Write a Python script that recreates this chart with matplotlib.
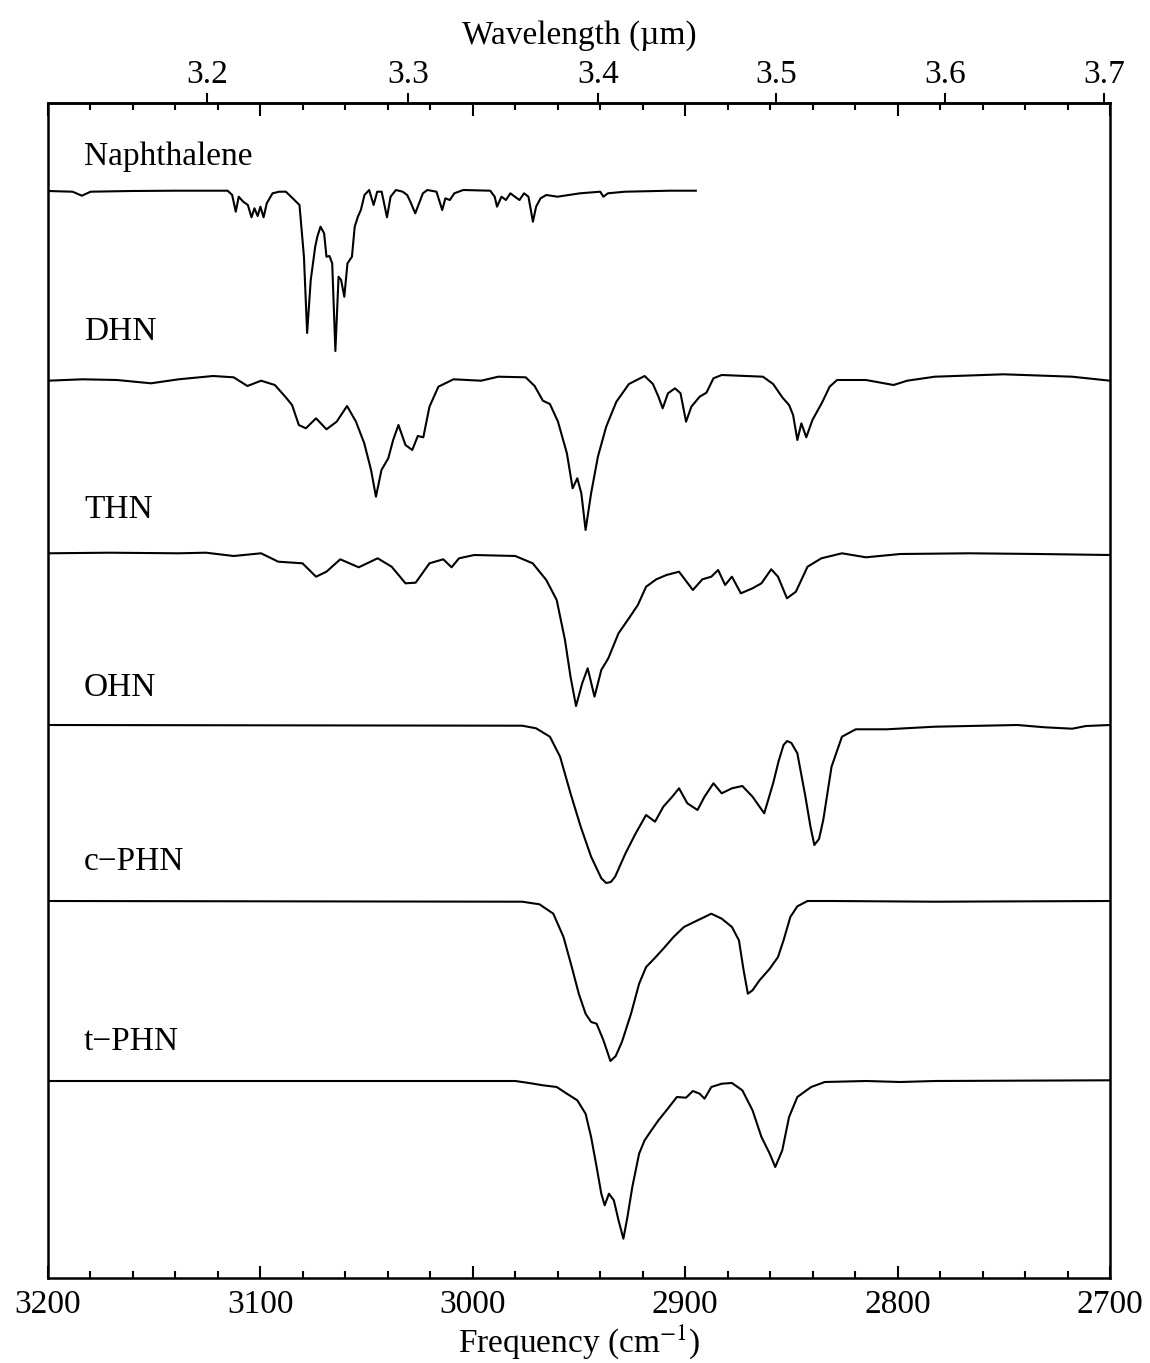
import numpy as np
import matplotlib
matplotlib.use("Agg")
import matplotlib.pyplot as plt
from matplotlib.ticker import MultipleLocator

plt.rcParams['font.family'] = ['Liberation Serif', 'DejaVu Serif']
plt.rcParams['mathtext.fontset'] = 'stix'

# spectra: frequency (cm-1) and signal (dip below baseline, arbitrary units)
naph_f = [3200.0, 3188.4, 3184.1, 3179.9, 3160.9, 3139.8, 3115.4, 3113.3, 3111.6, 3110.2, 3108.1,
          3105.9, 3104.2, 3102.8, 3101.3, 3100.0, 3098.5, 3097.0, 3094.3, 3091.1, 3088.0, 3084.8,
          3081.6, 3079.5, 3078.0, 3076.3, 3074.2, 3073.2, 3071.7, 3070.0, 3068.9, 3067.5, 3066.2,
          3064.7, 3063.2, 3062.0, 3060.5, 3059.0, 3056.9, 3055.6, 3054.1, 3052.7, 3051.0, 3048.8,
          3046.7, 3045.0, 3042.9, 3040.4, 3038.7, 3036.2, 3033.0, 3030.9, 3029.4, 3027.1, 3025.6,
          3023.5, 3021.4, 3017.1, 3014.4, 3012.9, 3010.8, 3008.7, 3004.5, 2991.8, 2989.7, 2988.6,
          2986.5, 2984.4, 2982.3, 2980.2, 2978.0, 2975.9, 2973.8, 2971.7, 2970.2, 2968.1, 2965.4,
          2960.1, 2949.5, 2940.0, 2938.5, 2936.4, 2928.4, 2907.2, 2895.0]
naph_v = [0, -0.7, -4.7, -0.7, 0, 0.3, 0.3, -4, -20.7, -5.7, -10.7,
          -14, -26.3, -17.3, -25, -15.7, -26.3, -12.3, -2.3, -0.7, -0.7, -7.3,
          -14, -65.7, -142, -89, -55.7, -45.7, -35.7, -42.3, -65.7, -65, -72.3,
          -160, -85.7, -89, -105.7, -72.3, -65.7, -35.7, -25.7, -19, -4, 1,
          -14, -0.7, -0.7, -26.3, -5.7, 1, -0.7, -4, -10.7, -22.3, -14,
          -2.3, 1, -0.7, -19, -7.3, -9, -2.3, 1, 0.3, -5.7, -15.7,
          -5.7, -9, -2.3, -5.7, -9, -2.3, -5.7, -30.7, -15.7, -7.3, -4,
          -5.7, -2.3, -0.7, -5.7, -2.3, -0.7, 0.3, 0.3]

dhn_f = [3200.0, 3183.8, 3167.6, 3151.5, 3138.5, 3122.3, 3112.6, 3106.1, 3099.7, 3093.2, 3088.3,
         3085.1, 3081.9, 3078.6, 3073.8, 3068.9, 3064.1, 3059.2, 3055.0, 3051.1, 3047.9, 3045.6,
         3043.0, 3039.8, 3037.5, 3035.0, 3031.7, 3028.5, 3025.9, 3023.3, 3020.4, 3016.2, 3009.1,
         2996.1, 2988.0, 2975.1, 2970.9, 2967.0, 2963.7, 2959.9, 2955.7, 2953.0, 2950.8, 2948.9,
         2946.9, 2944.3, 2941.1, 2937.2, 2932.4, 2926.5, 2919.1, 2915.2, 2912.6, 2910.6, 2908.1,
         2904.8, 2902.2, 2899.6, 2897.1, 2893.2, 2890.0, 2886.7, 2882.8, 2863.4, 2858.6, 2854.3,
         2851.1, 2849.2, 2847.2, 2845.3, 2843.0, 2840.1, 2835.6, 2832.0, 2828.5, 2814.9, 2801.9,
         2795.5, 2782.5, 2750.1, 2717.8, 2700.0]
dhn_v = [-0.7, 0.7, 0, -3.3, 0.7, 4, 2.7, -6, -0.7, -5, -16.7,
         -25, -45, -48.3, -38.3, -49.3, -41.7, -26, -41.7, -63.3, -90, -116.7,
         -90, -78.3, -60, -45, -65, -70, -56, -57.3, -26.7, -6.7, 0.7,
         -0.7, 3.3, 2.7, -6, -20.7, -24, -41.7, -73.3, -108.3, -98.3, -113.3,
         -150, -113.3, -76.7, -46.7, -21.7, -4, 4, -4, -16.7, -28.3, -13.3,
         -8.3, -13.3, -41.7, -26.7, -16.7, -12.7, 1.7, 5, 3.3, -4, -17.3,
         -25, -35, -60, -43.3, -57.3, -40, -22.7, -6.7, 0, 0, -5,
         -0.7, 3.3, 5.7, 3.3, -0.7]

thn_f = [3200.0, 3171.1, 3138.5, 3125.6, 3112.6, 3099.7, 3091.6, 3080.2, 3073.8, 3068.9, 3062.4,
         3053.7, 3044.8, 3038.2, 3031.7, 3026.9, 3020.4, 3013.9, 3010.0, 3006.5, 2999.3, 2980.0,
         2971.8, 2965.4, 2960.5, 2956.6, 2954.0, 2951.4, 2948.5, 2945.9, 2942.7, 2939.5, 2936.2,
         2931.4, 2926.5, 2922.3, 2918.4, 2913.6, 2908.8, 2902.9, 2896.4, 2891.9, 2887.7, 2884.5,
         2881.2, 2878.0, 2873.8, 2868.3, 2864.1, 2859.5, 2856.3, 2852.1, 2847.9, 2842.4, 2835.9,
         2826.2, 2814.9, 2798.7, 2766.3, 2733.9, 2700.0]
thn_v = [0.7, 1.3, 0.7, 1.3, -2, 0.7, -7.7, -9.3, -22.7, -17.7, -5.3,
         -13.3, -4.3, -12.7, -29.3, -28.7, -9.3, -5.3, -13.3, -4.3, -1, -2,
         -9.3, -26, -46, -86, -122.7, -152, -129.3, -114.3, -142.7, -116, -104.3,
         -79.3, -64.3, -51, -32.7, -25.3, -21, -17.7, -36, -25.3, -22.7, -16,
         -31, -22.7, -39.3, -34.3, -29.3, -15.3, -22.7, -44.3, -37.7, -12.7, -4.3,
         0.7, -3.3, 0, 0.7, 0, -1]

ohn_f = [3200.0, 2976.7, 2970.2, 2963.7, 2958.9, 2954.0, 2949.2, 2944.3, 2939.5, 2937.2, 2935.0,
         2933.0, 2928.1, 2923.3, 2918.4, 2914.2, 2910.3, 2906.1, 2902.9, 2899.0, 2894.2, 2890.9,
         2886.7, 2882.8, 2878.0, 2873.1, 2868.3, 2862.8, 2858.6, 2856.0, 2853.7, 2852.0, 2850.0,
         2847.2, 2843.4, 2841.0, 2839.2, 2837.0, 2835.0, 2831.1, 2826.2, 2819.7, 2805.2, 2782.5,
         2743.6, 2730.7, 2717.8, 2711.3, 2700.0]
ohn_v = [0, -0.7, -3.3, -11.7, -31.7, -68.3, -101.7, -131.7, -153.3, -158, -157,
         -151.7, -128.3, -108.3, -90, -96.7, -81.7, -71.7, -63.3, -78.3, -85, -71.7,
         -58.3, -68.3, -63.3, -61, -71.7, -88.3, -58.3, -36, -20, -16, -18,
         -28.3, -71.7, -102, -120, -114, -95, -41.7, -11.7, -4.3, -4.3, -1.7,
         0, -2.3, -3.7, -1, 0]

cphn_f = [3200.0, 2976.7, 2968.6, 2962.1, 2957.3, 2953.4, 2950.1, 2946.9, 2944.3, 2941.7, 2938.5,
          2935.2, 2932.7, 2929.8, 2925.5, 2921.7, 2918.4, 2914.6, 2910.3, 2905.5, 2900.6, 2895.8,
          2890.9, 2887.7, 2882.8, 2878.0, 2874.7, 2872.5, 2870.5, 2868.3, 2865.0, 2860.2, 2856.3,
          2853.7, 2850.5, 2847.2, 2842.4, 2831.1, 2782.5, 2700.0]
cphn_v = [0, -0.7, -3.3, -12.7, -36, -66, -92.7, -112.7, -121, -122.7, -139.3,
          -160, -155, -141, -112.7, -82.7, -66, -57.7, -47.7, -36, -26, -21,
          -16, -12.7, -17.7, -26, -39.3, -69.3, -92.7, -89.3, -79.3, -67.7, -56,
          -39.3, -16, -5.3, 0, 0, -0.7, 0]

tphn_f = [3200.0, 2980.0, 2973.5, 2967.0, 2960.5, 2955.7, 2950.8, 2946.9, 2944.3, 2941.7, 2939.5,
          2937.9, 2935.9, 2933.6, 2931.4, 2929.1, 2927.2, 2924.9, 2921.7, 2919.1, 2915.9, 2912.6,
          2908.8, 2903.9, 2899.6, 2896.4, 2893.2, 2890.9, 2887.7, 2882.8, 2878.0, 2873.1, 2868.3,
          2864.1, 2860.2, 2857.6, 2854.3, 2851.1, 2847.2, 2840.7, 2834.3, 2814.9, 2798.7, 2782.5,
          2700.0]
tphn_v = [0, 0, -2, -4.3, -6, -12.7, -19.3, -32.7, -56, -86, -112.7,
          -124.3, -112.7, -119.3, -139.3, -157.7, -136, -106, -72.7, -59.3, -49.3, -39.3,
          -29.3, -16, -16.7, -10, -12.7, -17.7, -6, -2.7, -2, -9.3, -29.3,
          -56, -72.7, -86, -69.3, -36, -16, -6, -1, 0, -1, 0,
          0.7]

names = ['Naphthalene', 'DHN', 'THN', 'OHN', 'c\u2212PHN', 't\u2212PHN']
offsets = [1087, 898, 724, 553, 377, 197]
label_y = [1121, 946, 768, 590, 416, 236]

spectra = [(naph_f, naph_v), (dhn_f, dhn_v), (thn_f, thn_v),
           (ohn_f, ohn_v), (cphn_f, cphn_v), (tphn_f, tphn_v)]

fig = plt.figure(figsize=(11.5, 13.63), dpi=100)
ax = fig.add_axes([48 / 1150, 1 - 1278 / 1363, 1062 / 1150, 1175 / 1363])

for (f, v), off, name, ly in zip(spectra, offsets, names, label_y):
    ax.plot(f, np.array(v) + off, color='black', lw=1.5)
    ax.text(3183, ly, name, fontsize=24, ha='left', va='center')

ax.set_xlim(3200, 2700)
ax.set_ylim(0, 1175)
ax.set_yticks([])
ax.xaxis.set_major_locator(MultipleLocator(100))
ax.xaxis.set_minor_locator(MultipleLocator(20))
ax.tick_params(axis='x', which='both', direction='in', top=True, labelsize=24, width=1.5, pad=8)
ax.tick_params(axis='x', which='major', length=9)
ax.tick_params(axis='x', which='minor', length=5)
for s in ax.spines.values():
    s.set_linewidth(1.8)
ax.set_xlabel('Frequency (cm$^{-1}$)', fontsize=24, labelpad=2)


def to_wl(x):
    x = np.asarray(x, dtype=float)
    with np.errstate(divide='ignore', invalid='ignore'):
        return 1e4 / x


top = ax.secondary_xaxis('top', functions=(to_wl, to_wl))
top.set_xticks([3.2, 3.3, 3.4, 3.5, 3.6, 3.7])
top.set_xticklabels(['3.2', '3.3', '3.4', '3.5', '3.6', '3.7'])
top.xaxis.set_minor_locator(matplotlib.ticker.NullLocator())
top.tick_params(axis='x', direction='out', length=7, width=1.5, labelsize=24, pad=2)
top.spines['top'].set_linewidth(1.8)
top.set_xlabel('Wavelength (\u00b5m)', fontsize=24, labelpad=12)

fig.savefig('out.png', dpi=100)
